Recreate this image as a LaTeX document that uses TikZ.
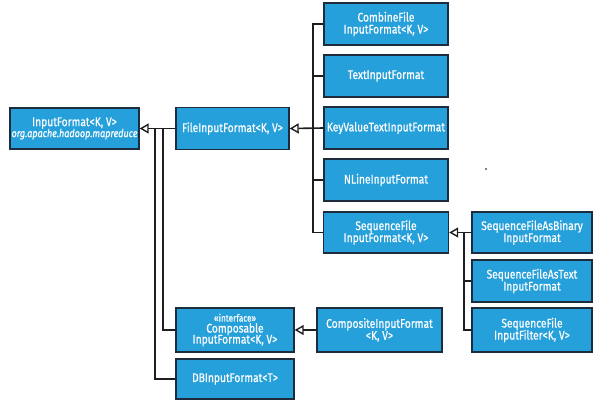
\documentclass[tikz,border=0pt]{standalone}
\usepackage{fontspec}
\setmainfont[FakeStretch=0.82, FakeBold=0.6]{Fira Sans}
\usetikzlibrary{arrows.meta}
\definecolor{boxblue}{RGB}{38,160,218}
\definecolor{boxedge}{RGB}{28,44,60}
\definecolor{linec}{RGB}{30,30,30}
\tikzset{
  cls/.style={draw=boxedge, line width=1.4pt, fill=boxblue, text=white, align=center,
    inner sep=0pt, font=\fontsize{12.5}{13}\selectfont},
  conn/.style={draw=linec, line width=1.6pt},
  inh/.style={conn, -{Triangle[open, length=9pt, width=10pt, line width=1.4pt]}},
}
\begin{document}
\begin{tikzpicture}[x=1pt, y=-1pt]
\useasboundingbox (0,0) rectangle (600,400);
% nodes
\node[cls, minimum width=129pt, minimum height=41pt] (in) at (74.5,128.5)
  {InputFormat<K, V>\\[-2pt]{\itshape\fontsize{11}{11}\selectfont org.apache.hadoop.mapreduce}};
\node[cls, minimum width=113pt, minimum height=42pt] (fif) at (232.5,128.5) {FileInputFormat<K, V>};
\node[cls, minimum width=124pt, minimum height=42pt] (comb) at (386,24) {CombineFile\\[-1pt]InputFormat<K, V>};
\node[cls, minimum width=124pt, minimum height=42pt] (text) at (386,76) {TextInputFormat};
\node[cls, minimum width=124pt, minimum height=42pt] (kv) at (386,128) {KeyValueTextInputFormat};
\node[cls, minimum width=124pt, minimum height=42pt] (nline) at (386,180) {NLineInputFormat};
\node[cls, minimum width=125pt, minimum height=41pt] (seq) at (386,232.5) {SequenceFile\\[-1pt]InputFormat<K, V>};
\node[cls, minimum width=120pt, minimum height=41pt] (bin) at (532,232.5) {SequenceFileAsBinary\\[-1pt]InputFormat};
\node[cls, minimum width=120pt, minimum height=42pt] (astext) at (532,281) {SequenceFileAsText\\[-1pt]InputFormat};
\node[cls, minimum width=120pt, minimum height=44pt] (filt) at (532,330) {SequenceFile\\[-1pt]InputFilter<K, V>};
\node[cls, minimum width=118pt, minimum height=44pt] (compo) at (235,330)
  {{\fontsize{10}{10}\selectfont «interface»}\\[-2pt]Composable\\[-2pt]InputFormat<K, V>};
\node[cls, minimum width=118pt, minimum height=40pt] (db) at (235,379) {DBInputFormat<T>};
\node[cls, minimum width=125pt, minimum height=44pt] (cmpst) at (379.5,330) {CompositeInputFormat\\[-1pt]<K, V>};
% junction coordinates
\coordinate (ja) at (155,128.5);
\coordinate (jb) at (163,128.5);
\coordinate (jc) at (313,128.5);
\coordinate (jd) at (464,232.5);
% connectors
\draw[inh] (fif.west) -- (in.east);
\draw[conn] (db.west) -| (ja);
\draw[conn] (compo.west) -| (jb);
\draw[inh] (kv.west) -- (fif.east);
\draw[conn] (comb.west) -| (jc);
\draw[conn] (seq.west) -| (jc);
\draw[conn] (text.west) -- (text.west -| jc);
\draw[conn] (nline.west) -- (nline.west -| jc);
\draw[inh] (bin.west) -- (seq.east);
\draw[conn] (filt.west) -| (jd);
\draw[conn] (astext.west) -- (astext.west -| jd);
\draw[inh] (cmpst.west) -- (compo.east);
% stray dot
\fill[black] (486,169) circle (0.9pt);
\end{tikzpicture}
\end{document}
